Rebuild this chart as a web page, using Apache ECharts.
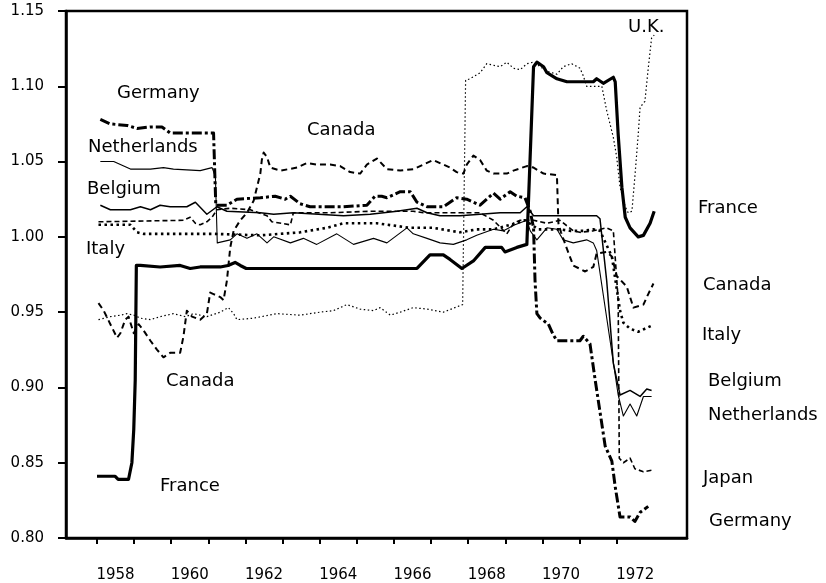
<!DOCTYPE html>
<html><head><meta charset="utf-8">
<script src="https://cdn.jsdelivr.net/npm/echarts@6/dist/echarts.min.js"></script>
<style>html,body{margin:0;padding:0;background:#fff}#c{width:826px;height:583px}</style>
</head><body><div id="c"></div>
<script>
// ---- data (year, value) ----
const tickYears = [1958,1959,1960,1961,1962,1963,1964,1965,1966,1967,1968,1969,1970,1971,1972];
const labelYears = [1958,1960,1962,1964,1966,1968,1970,1972];
const yTicks = [0.80,0.85,0.90,0.95,1.00,1.05,1.10,1.15];

const france = [[1958.00,0.841],[1958.49,0.841],[1958.57,0.839],[1958.85,0.839],[1958.94,0.850],[1958.99,0.872],[1959.03,0.905],[1959.06,0.981],[1959.17,0.981],[1959.70,0.980],[1960.24,0.981],[1960.51,0.979],[1960.78,0.980],[1961.05,0.980],[1961.32,0.980],[1961.53,0.981],[1961.72,0.983],[1961.86,0.981],[1962.02,0.979],[1963.47,0.979],[1966.62,0.979],[1966.97,0.988],[1967.33,0.988],[1967.51,0.985],[1967.83,0.979],[1968.14,0.984],[1968.46,0.993],[1968.90,0.993],[1968.99,0.990],[1969.31,0.993],[1969.58,0.995],[1969.76,1.113],[1969.85,1.116],[1970.03,1.113],[1970.12,1.109],[1970.39,1.105],[1970.66,1.103],[1971.37,1.103],[1971.46,1.105],[1971.64,1.102],[1971.91,1.106],[1971.96,1.103],[1972.04,1.068],[1972.14,1.033],[1972.23,1.013],[1972.36,1.006],[1972.58,1.000],[1972.72,1.001],[1972.90,1.009],[1973.01,1.017]];

const germany = [[1958.09,1.078],[1958.36,1.075],[1958.81,1.074],[1959.08,1.072],[1959.44,1.073],[1959.75,1.073],[1959.97,1.069],[1960.42,1.069],[1961.14,1.069],[1961.20,1.021],[1961.32,1.021],[1961.50,1.021],[1961.77,1.025],[1962.40,1.026],[1962.80,1.027],[1963.07,1.025],[1963.21,1.027],[1963.47,1.022],[1963.74,1.020],[1964.64,1.020],[1965.27,1.021],[1965.49,1.027],[1965.67,1.027],[1965.81,1.026],[1966.17,1.030],[1966.44,1.030],[1966.62,1.023],[1966.89,1.020],[1967.33,1.020],[1967.69,1.026],[1967.96,1.025],[1968.32,1.021],[1968.68,1.029],[1968.86,1.025],[1969.13,1.030],[1969.31,1.027],[1969.53,1.026],[1969.67,1.017],[1969.76,1.006],[1969.80,0.971],[1969.85,0.949],[1969.94,0.946],[1970.16,0.942],[1970.29,0.935],[1970.39,0.931],[1971.01,0.931],[1971.10,0.934],[1971.28,0.929],[1971.42,0.905],[1971.69,0.861],[1971.87,0.851],[1971.96,0.834],[1972.09,0.814],[1972.36,0.814],[1972.49,0.811],[1972.63,0.817],[1972.85,0.821]];

const netherlands = [[1958.09,1.050],[1958.45,1.050],[1958.72,1.047],[1958.90,1.045],[1959.44,1.045],[1959.79,1.046],[1960.06,1.045],[1960.78,1.044],[1961.10,1.046],[1961.19,1.040],[1961.24,0.996],[1961.59,0.998],[1961.77,1.002],[1962.04,0.999],[1962.31,1.002],[1962.58,0.996],[1962.76,1.000],[1963.21,0.996],[1963.56,0.999],[1963.92,0.995],[1964.46,1.002],[1964.91,0.995],[1965.45,0.999],[1965.81,0.996],[1966.35,1.006],[1966.52,1.002],[1966.89,0.999],[1967.24,0.996],[1967.60,0.995],[1967.96,0.998],[1968.23,1.001],[1968.68,1.005],[1968.95,1.004],[1969.26,1.008],[1969.58,1.011],[1969.67,1.004],[1969.85,0.998],[1970.12,1.006],[1970.39,1.005],[1970.56,0.998],[1970.83,0.996],[1971.19,0.998],[1971.37,0.996],[1971.46,0.991],[1972.04,0.895],[1972.18,0.881],[1972.36,0.889],[1972.54,0.881],[1972.72,0.894],[1972.94,0.894]];

const belgium = [[1958.09,1.021],[1958.36,1.018],[1958.90,1.018],[1959.17,1.020],[1959.44,1.018],[1959.70,1.021],[1959.97,1.020],[1960.42,1.020],[1960.65,1.023],[1960.96,1.015],[1961.23,1.020],[1961.50,1.017],[1962.40,1.016],[1962.76,1.015],[1963.29,1.016],[1964.64,1.014],[1965.36,1.015],[1966.08,1.017],[1966.62,1.019],[1966.89,1.016],[1967.24,1.014],[1967.78,1.014],[1968.32,1.015],[1968.86,1.016],[1969.40,1.016],[1969.58,1.020],[1969.76,1.014],[1971.46,1.014],[1971.55,1.012],[1971.73,0.971],[1971.91,0.916],[1972.09,0.895],[1972.36,0.898],[1972.63,0.894],[1972.81,0.899],[1972.94,0.898]];

const italy = [[1958.04,1.008],[1958.90,1.008],[1959.08,1.003],[1959.25,1.002],[1960.24,1.002],[1961.14,1.002],[1962.40,1.001],[1963.47,1.003],[1964.19,1.006],[1964.64,1.009],[1965.54,1.009],[1966.44,1.006],[1967.06,1.006],[1967.78,1.003],[1968.23,1.005],[1968.68,1.005],[1969.13,1.008],[1969.53,1.011],[1969.89,1.005],[1970.47,1.005],[1970.74,1.004],[1971.10,1.004],[1971.37,1.005],[1971.55,1.004],[1971.87,0.987],[1972.09,0.951],[1972.18,0.943],[1972.36,0.939],[1972.58,0.937],[1972.76,0.939],[1972.94,0.941]];

const canada = [[1958.04,0.956],[1958.18,0.951],[1958.36,0.942],[1958.54,0.933],[1958.63,0.936],[1958.76,0.945],[1958.85,0.947],[1958.99,0.936],[1959.12,0.942],[1959.25,0.938],[1959.44,0.931],[1959.62,0.925],[1959.79,0.920],[1959.97,0.923],[1960.24,0.923],[1960.33,0.934],[1960.42,0.951],[1960.56,0.947],[1960.78,0.945],[1960.96,0.949],[1961.05,0.963],[1961.14,0.962],[1961.32,0.960],[1961.41,0.958],[1961.50,0.971],[1961.59,0.993],[1961.68,1.004],[1961.86,1.011],[1962.04,1.016],[1962.22,1.024],[1962.40,1.042],[1962.44,1.051],[1962.49,1.056],[1962.58,1.053],[1962.67,1.046],[1962.94,1.044],[1963.39,1.046],[1963.65,1.049],[1963.92,1.048],[1964.28,1.048],[1964.55,1.047],[1964.82,1.043],[1965.09,1.042],[1965.27,1.048],[1965.54,1.052],[1965.81,1.045],[1966.17,1.044],[1966.53,1.045],[1966.79,1.048],[1967.06,1.051],[1967.33,1.048],[1967.51,1.046],[1967.69,1.043],[1967.87,1.042],[1967.96,1.048],[1968.14,1.054],[1968.32,1.051],[1968.50,1.044],[1968.68,1.042],[1969.04,1.042],[1969.22,1.044],[1969.58,1.047],[1969.76,1.046],[1970.03,1.042],[1970.39,1.041],[1970.43,1.009],[1970.50,1.003],[1970.66,0.992],[1970.83,0.981],[1971.15,0.977],[1971.37,0.980],[1971.46,0.989],[1971.73,0.990],[1971.87,0.987],[1972.00,0.974],[1972.27,0.967],[1972.45,0.953],[1972.72,0.955],[1972.85,0.962],[1972.99,0.969]];

const japan = [[1958.04,1.010],[1960.33,1.011],[1960.51,1.013],[1960.65,1.009],[1960.78,1.008],[1960.96,1.010],[1961.10,1.013],[1961.23,1.018],[1961.59,1.019],[1962.13,1.018],[1962.58,1.014],[1962.71,1.010],[1963.21,1.008],[1963.29,1.016],[1964.28,1.016],[1965.36,1.017],[1966.52,1.017],[1966.79,1.016],[1968.32,1.016],[1968.68,1.011],[1969.04,1.002],[1969.22,1.009],[1969.40,1.011],[1969.76,1.011],[1970.12,1.009],[1970.47,1.011],[1970.83,1.004],[1971.01,1.003],[1971.37,1.004],[1971.73,1.006],[1971.91,1.004],[1972.04,0.958],[1972.07,0.853],[1972.18,0.850],[1972.36,0.853],[1972.49,0.846],[1972.72,0.844],[1972.94,0.845]];

const uk = [[1958.04,0.945],[1958.36,0.947],[1958.63,0.948],[1958.81,0.949],[1958.99,0.948],[1959.17,0.946],[1959.44,0.945],[1959.70,0.947],[1960.06,0.949],[1960.38,0.947],[1960.60,0.949],[1960.96,0.947],[1961.32,0.950],[1961.54,0.953],[1961.68,0.949],[1961.77,0.945],[1962.22,0.946],[1962.85,0.949],[1963.47,0.948],[1964.01,0.950],[1964.37,0.951],[1964.73,0.955],[1965.09,0.952],[1965.45,0.951],[1965.63,0.953],[1965.90,0.948],[1966.17,0.950],[1966.52,0.953],[1966.89,0.952],[1967.33,0.950],[1967.85,0.955],[1967.93,1.104],[1968.05,1.105],[1968.32,1.109],[1968.50,1.115],[1968.86,1.113],[1969.04,1.116],[1969.22,1.112],[1969.40,1.111],[1969.58,1.115],[1969.76,1.116],[1970.12,1.110],[1970.39,1.108],[1970.56,1.113],[1970.79,1.115],[1971.01,1.112],[1971.10,1.107],[1971.19,1.100],[1971.60,1.100],[1971.73,1.084],[1971.91,1.066],[1972.00,1.053],[1972.09,1.033],[1972.23,1.020],[1972.31,1.016],[1972.41,1.017],[1972.49,1.040],[1972.58,1.068],[1972.63,1.086],[1972.76,1.090],[1972.85,1.112],[1972.94,1.132],[1973.01,1.134]];

const seriesNames = ['U.K.','Japan','Canada','Italy','Belgium','Netherlands','Germany','France'];

// ---- layout / styles ----
const FONT = '"DejaVu Sans", sans-serif';
const labelLayout = [
  ['Germany',117,93],['Netherlands',88,147],['Belgium',87,189],['Italy',86,249],
  ['Canada',307,130],['Canada',166,381],['France',160,486],['U.K.',628,27],
  ['France',698,208],['Canada',703,285],['Italy',702,335],['Belgium',708,381],
  ['Netherlands',708,415],['Japan',703,478],['Germany',709,521]
];
const styles = {
  'U.K.':       {width:1.2, type:[1.5,2.5]},
  'Japan':      {width:1.6, type:[5,3]},
  'Canada':     {width:2.0, type:[6,4]},
  'Italy':      {width:2.6, type:[2.5,3.5]},
  'Belgium':    {width:1.5, type:'solid'},
  'Netherlands':{width:1.1, type:'solid'},
  'Germany':    {width:3.0, type:[10,3,3,3]},
  'France':     {width:3.2, type:'solid'}
};
const dataByName = {'U.K.':uk,'Japan':japan,'Canada':canada,'Italy':italy,'Belgium':belgium,'Netherlands':netherlands,'Germany':germany,'France':france};

const chart = echarts.init(document.getElementById('c'), null, {renderer:'canvas'});
chart.setOption({
  animation:false,
  backgroundColor:'#fff',
  grid:{left:66, right:139, top:11, bottom:45, show:true, borderColor:'#000', borderWidth:2.5},
  xAxis:{
    type:'value', min:1957.165, max:1973.894,
    axisLine:{onZero:false, lineStyle:{color:'#000', width:2.5}},
    axisTick:{customValues:tickYears, length:6, lineStyle:{color:'#000', width:2}},
    axisLabel:{customValues:labelYears.map(y=>y+0.5), formatter:v=>String(Math.floor(v)), margin:30, color:'#000', fontFamily:FONT, fontSize:15},
    splitLine:{show:false}
  },
  yAxis:{
    type:'value', min:0.8, max:1.15, interval:0.05,
    axisLine:{show:true, lineStyle:{color:'#000', width:2.5}},
    axisTick:{show:true, customValues:yTicks, length:8, lineStyle:{color:'#000', width:2}},
    axisLabel:{customValues:yTicks, formatter:v=>v.toFixed(2), margin:22, color:'#000', fontFamily:FONT, fontSize:15},
    splitLine:{show:false}
  },
  series: seriesNames.map(n=>({
    name:n, type:'line', data:dataByName[n], showSymbol:false, symbol:'none',
    lineStyle:{color:'#000', width:styles[n].width, type:styles[n].type, cap:'butt', join:'round'},
    clip:true
  })),
  graphic: labelLayout.map(l=>({type:'text', x:l[1], y:l[2], silent:true,
    style:{text:l[0], font:'18px '+FONT, fill:'#000', textVerticalAlign:'middle'}}))
});
</script></body></html>
